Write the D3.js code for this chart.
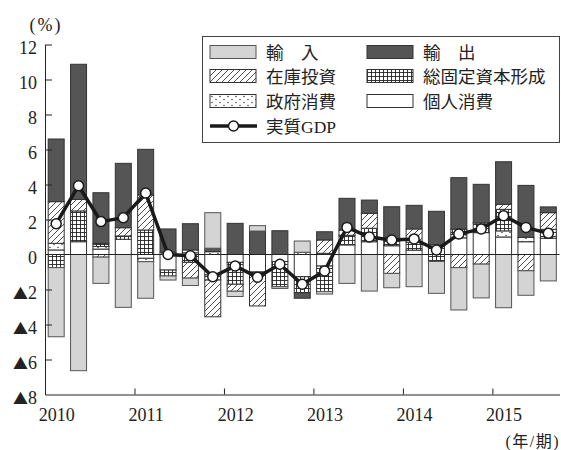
<!DOCTYPE html>
<html>
<head>
<meta charset="utf-8">
<script src="https://cdn.jsdelivr.net/npm/d3@7"></script>
<style>
  body { margin: 0; background: #fff; }
  text { font-family: "Liberation Serif", "Noto Sans CJK JP", serif; }
</style>
</head>
<body>
<div id="chart"></div>
<script>
// quarters 2010Q1 .. 2015Q3
const quarters = ["2010Q1","2010Q2","2010Q3","2010Q4","2011Q1","2011Q2","2011Q3","2011Q4",
  "2012Q1","2012Q2","2012Q3","2012Q4","2013Q1","2013Q2","2013Q3","2013Q4",
  "2014Q1","2014Q2","2014Q3","2014Q4","2015Q1","2015Q2","2015Q3"];
const years = [2010, 2011, 2012, 2013, 2014, 2015];
const yTicks = [-8, -6, -4, -2, 0, 2, 4, 6, 8, 10, 12];

// contributions (% pt)
const consumption = [0.26, 0.73, 0.31, 0.87, -0.22, -0.89, 0.10, -1.17, -0.45, -1.00, -0.40, -1.27,
  -0.66, 0.55, 0.73, 0.50, 0.25, 0.35, 0.95, 1.25, 1.00, 0.73, 0.93];
const government = [0.38, 0, 0.15, 0, -0.19, 0.13, 0.16, 0.16, 0, 0, 0, 0.13,
  0.07, 0, 0, 0, 0, 0.20, 0.20, 0, 0.35, 0.25, 0];
const gfcf = [-0.75, 1.76, 0.18, 0.19, 1.40, -0.34, -0.45, -0.29, -1.25, -0.20, -1.44, -0.91,
  -1.46, 0.55, 0.77, 0.25, 0.45, -0.40, 0.30, 0.55, 1.23, 0, 0.51];
const inventory = [2.38, 0.66, -0.15, 0.47, 2.00, 0, -0.90, -2.10, -0.40, -1.74, 0, 0,
  0.76, 0.30, 0.85, -1.08, 0.76, 0, -0.75, -0.55, 0.29, -0.93, 0.95];
const exports = [3.58, 7.72, 2.89, 3.68, 2.61, 1.33, 1.50, 0.20, 1.78, 1.34, 1.36, -0.32,
  0.47, 1.81, 0.76, 1.98, 1.35, 1.92, 2.94, 2.21, 2.43, 2.97, 0.33];
const imports = [-3.95, -6.64, -1.50, -3.02, -2.09, -0.23, -0.42, 2.03, -0.30, 0.31, -0.10, 0.64,
  -0.14, -1.65, -2.09, -0.82, -1.84, -1.82, -2.42, -1.93, -3.04, -1.40, -1.51];
const realGDP = [1.76, 3.93, 1.88, 2.10, 3.51, 0.00, -0.07, -1.27, -0.66, -1.30, -0.56, -1.70,
  -0.94, 1.55, 1.00, 0.83, 0.89, 0.26, 1.17, 1.46, 2.22, 1.55, 1.21];

const keys = ["consumption", "government", "gfcf", "inventory", "exports", "imports"];
const labels = {
  imports: "輸　入", exports: "輸　出", inventory: "在庫投資",
  gfcf: "総固定資本形成", government: "政府消費", consumption: "個人消費"
};

const table = quarters.map((q, i) => ({
  q, i,
  consumption: consumption[i], government: government[i], gfcf: gfcf[i],
  inventory: inventory[i], exports: exports[i], imports: imports[i]
}));

const width = 561, height = 450;
const svg = d3.select("#chart").append("svg")
    .attr("width", width)
    .attr("height", height);

// patterns
const defs = svg.append("defs");
const hatch = defs.append("pattern").attr("id", "hatch")
    .attr("patternUnits", "userSpaceOnUse").attr("width", 6).attr("height", 6);
hatch.append("rect").attr("width", 6).attr("height", 6).attr("fill", "#fff");
hatch.append("path").attr("d", "M-1,7 L7,-1 M-4,4 L4,-4 M2,10 L10,2")
    .attr("stroke", "#222").attr("stroke-width", 0.8);

const grid = defs.append("pattern").attr("id", "grid")
    .attr("patternUnits", "userSpaceOnUse").attr("width", 4).attr("height", 4);
grid.append("rect").attr("width", 4).attr("height", 4).attr("fill", "#fff");
grid.append("path").attr("d", "M0,0.5 H4 M0.5,0 V4")
    .attr("stroke", "#222").attr("stroke-width", 0.9);

const dots = defs.append("pattern").attr("id", "dots")
    .attr("patternUnits", "userSpaceOnUse").attr("width", 8).attr("height", 6);
dots.append("rect").attr("width", 8).attr("height", 6).attr("fill", "#fff");
dots.append("circle").attr("cx", 2).attr("cy", 1.5).attr("r", 0.7).attr("fill", "#222");
dots.append("circle").attr("cx", 6).attr("cy", 4.5).attr("r", 0.7).attr("fill", "#222");

const fills = {
  consumption: "#fff", government: "url(#dots)", gfcf: "url(#grid)",
  inventory: "url(#hatch)", exports: "#555", imports: "#d4d4d4"
};
const strokes = {
  consumption: "#333", government: "#333", gfcf: "#333",
  inventory: "#333", exports: "#333", imports: "#555"
};

const x = d3.scaleLinear().domain([0, quarters.length]).range([45, 559.5]);
const y = d3.scaleLinear().domain([-8, 12]).range([394.5, 44.5]);
const bw = 16;

const series = d3.stack().keys(keys).offset(d3.stackOffsetDiverging)(table);

svg.append("g")
  .selectAll("g")
  .data(series)
  .join("g")
    .attr("fill", d => fills[d.key])
    .attr("stroke", d => strokes[d.key])
    .attr("stroke-width", 1)
  .selectAll("rect")
  .data(d => d.filter(s => s[1] - s[0] !== 0))
  .join("rect")
    .attr("x", d => x(d.data.i + 0.5) - bw / 2)
    .attr("width", bw)
    .attr("y", d => y(d[1]))
    .attr("height", d => y(d[0]) - y(d[1]));

// zero line
svg.append("line")
    .attr("x1", x(0)).attr("x2", x(quarters.length))
    .attr("y1", y(0)).attr("y2", y(0))
    .attr("stroke", "#222").attr("stroke-width", 1);

// axes
svg.append("g")
    .attr("transform", `translate(${x(0)},0)`)
    .call(d3.axisLeft(y).tickValues(yTicks).tickSizeInner(-7).tickSizeOuter(0).tickFormat(d => ""))
    .call(g => g.select(".domain").attr("stroke", "#222"))
    .call(g => g.selectAll(".tick line").attr("stroke", "#222"))
    .call(g => g.selectAll(".tick").filter(d => d === 0 || d === -8).select("line").remove());

svg.append("g")
  .selectAll("text")
  .data(yTicks)
  .join("text")
    .attr("x", 37)
    .attr("y", d => y(d) + 9)
    .attr("text-anchor", "end")
    .attr("font-size", 18)
    .attr("fill", "#222")
    .each(function(d) {
      const t = d3.select(this);
      if (d < 0) {
        t.append("tspan").attr("font-family", "Noto Sans CJK JP").attr("font-size", 15).text("▲");
        t.append("tspan").text(-d);
      } else {
        t.text(d);
      }
    });

// x axis: ticks on year boundaries, labels under the first quarter
const half = (x(1) - x(0)) / 2;
svg.append("g")
    .attr("transform", `translate(0,${y(-8)})`)
    .call(d3.axisBottom(x).tickValues(years.map((yr, k) => k * 4))
      .tickSizeInner(-6).tickSizeOuter(0).tickPadding(0)
      .tickFormat((d, k) => years[k]))
    .call(g => g.select(".domain").attr("stroke", "#222"))
    .call(g => g.selectAll(".tick line").attr("stroke", "#222"))
    .call(g => g.selectAll(".tick text")
      .attr("x", half).attr("y", 26.5).attr("dy", null)
      .attr("font-family", "Liberation Serif").attr("font-size", 18).attr("fill", "#222"));

// GDP line
svg.append("path")
    .datum(realGDP)
    .attr("fill", "none")
    .attr("stroke", "#1a1a1a")
    .attr("stroke-width", 3.5)
    .attr("stroke-linejoin", "miter")
    .attr("d", d3.line().x((d, i) => x(i + 0.5)).y(d => y(d)));

svg.append("g")
  .selectAll("circle")
  .data(realGDP)
  .join("circle")
    .attr("cx", (d, i) => x(i + 0.5))
    .attr("cy", d => y(d))
    .attr("r", 5)
    .attr("fill", "#fff")
    .attr("stroke", "#1a1a1a")
    .attr("stroke-width", 1.5);

// unit labels
svg.append("text").attr("x", 46).attr("y", 31).attr("text-anchor", "middle")
    .attr("font-size", 18).attr("letter-spacing", 2).attr("fill", "#222").text("(%)");
svg.append("text").attr("x", 560).attr("y", 447).attr("text-anchor", "end")
    .attr("font-size", 16).attr("letter-spacing", 1.5).attr("fill", "#222").text("(年/期)");

// legend
const legend = svg.append("g");
legend.append("rect")
    .attr("x", 202.5).attr("y", 36.5).attr("width", 357).attr("height", 106)
    .attr("fill", "#fff").attr("stroke", "#444").attr("stroke-width", 1);

const legendItems = [
  {key: "imports", col: 0, row: 0}, {key: "exports", col: 1, row: 0},
  {key: "inventory", col: 0, row: 1}, {key: "gfcf", col: 1, row: 1},
  {key: "government", col: 0, row: 2}, {key: "consumption", col: 1, row: 2}
];
const colX = [210, 367], rowY = [52, 76, 101, 126];

legend.selectAll("g.item")
  .data(legendItems)
  .join("g")
    .attr("class", "item")
    .attr("transform", d => `translate(${colX[d.col]},${rowY[d.row]})`)
    .call(g => g.append("rect")
      .attr("x", 0).attr("y", -6.5).attr("width", 46).attr("height", 13)
      .attr("fill", d => fills[d.key]).attr("stroke", d => strokes[d.key]))
    .call(g => g.append("text")
      .attr("x", 56).attr("y", 6.5)
      .attr("font-family", "Noto Sans CJK JP")
      .attr("font-size", 17.5).attr("fill", "#222")
      .text(d => labels[d.key]));

const lg = legend.append("g").attr("transform", `translate(${colX[0]},${rowY[3]})`);
lg.append("line").attr("x1", 0).attr("x2", 47).attr("y1", 0).attr("y2", 0)
    .attr("stroke", "#1a1a1a").attr("stroke-width", 3.5);
lg.append("circle").attr("cx", 23.5).attr("cy", 0).attr("r", 5)
    .attr("fill", "#fff").attr("stroke", "#1a1a1a").attr("stroke-width", 1.5);
lg.append("text").attr("x", 56).attr("y", 6.5)
    .attr("font-family", "Noto Sans CJK JP").attr("font-size", 17.5).attr("fill", "#222")
    .text("実質GDP");
</script>
</body>
</html>
